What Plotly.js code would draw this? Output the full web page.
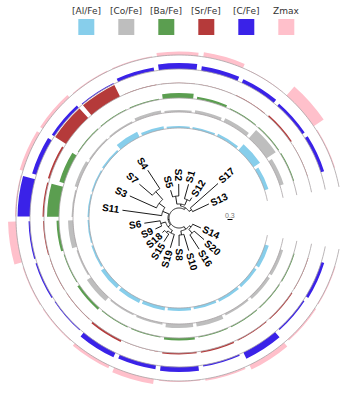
<!DOCTYPE html>
<html><head><meta charset="utf-8">
<script src="https://cdn.plot.ly/plotly-3.0.1.min.js"></script>
<style>html,body{margin:0;padding:0;background:#fff}#chart{width:358px;height:400px}</style>
</head><body><div id="chart"></div>
<script>
// ---- data ----
const samples = ['S13','S17','S12','S1','S2','S5','S4','S7','S3','S11','S6','S9','S18','S15','S19','S8','S10','S16','S20','S14'];
const seriesNames = ['[Al/Fe]','[Co/Fe]','[Ba/Fe]','[Sr/Fe]','[C/Fe]','Zmax'];
const alFe = [4, 8, 3, 2, 2, 3, 6, 2, 1.5, 1.5, 1.5, 2, 4, 4, 3.5, 3, 2.5, 3, 3, 4];
const coFe = [4, 11, 4, 3, 2, 3, 1.5, 1.5, 3, 1.5, 5, 1.5, 5, 1.5, 2, 4, 4, 2, 3, 3];
const baFe = [1, 1, 1, 2.5, 5, 1, 1, 1, 5, 12, 2.5, 1, 2.5, 1, 1, 2.5, 1, 1, 1, 1];
const srFe = [0.4, 1.5, 0.5, 0.3, 0.3, 0.3, 13, 13, 2, 1.5, 1, 0.5, 0.5, 2, 0.5, 1.5, 1.5, 1, 1, 0.5];
const cFe  = [3.5, 3, 4, 4.5, 6, 3.5, 1, 3, 4.5, 12.5, 1.5, 1.5, 1, 5, 4, 5, 1.5, 7, 1.5, 3];
const zmax = [1, 12, 0.5, 4.5, 3.5, 1, 1, 3, 3.5, 1, 8, 1, 1, 3, 5, 1, 2, 5, 1.5, 1];
const treeNewick = '(((S13:1.08,S17:2.22):0.18,((S12:0.24,S1:0.9):0.36,(S2:0.72,S5:0.42):0.48):0.12):0.12,((((S4:1.32,S7:1.02):0.62,S3:1.75):0.43,S11:2.37):0.39,((S6:0.96,S9:0.42):0.3,((S18:0.18,S15:0.54):0.12,S19:0.84):0.18):0.18):0.06,((S8:0.66,S10:1.02):0.24,((S16:1.02,S20:0.78):0.3,S14:0.54):0.12):0.18);';
const scaleBarValue = 0.3;

// ---- layout constants ----
const series = [alFe, coFe, baFe, srFe, cFe, zmax];
const colors = ['#87CEEB','#BEBEBE','#5B9E50','#B53A3A','#3A22E8','#FFC0CB'];
const ringBase = [90, 106, 120, 135, 149, 163];
const BAR_SCALE = 1;
const R0 = 10, PX_PER_UNIT = 16.7;
const ARC_START = 17, ARC_END = 343.7;
const BASE_START = 11, BASE_END = 349;
const step = (ARC_END - ARC_START) / samples.length;
const leafAngle = i => ARC_START + step * (i + 0.5);
const angles = samples.map((s, i) => leafAngle(i));

// ---- tree ----
function parseNewick(str) {
  const s = str.replace(/\s+/g, '');
  let i = 0;
  function node() {
    const n = {children: [], name: '', len: 0};
    if (s[i] === '(') {
      i++; n.children.push(node());
      while (s[i] === ',') { i++; n.children.push(node()); }
      i++;
    }
    let name = '';
    while (i < s.length && !':,);'.includes(s[i])) name += s[i++];
    n.name = name;
    if (s[i] === ':') {
      i++; let num = '';
      while (i < s.length && !',);'.includes(s[i])) num += s[i++];
      n.len = parseFloat(num);
    }
    return n;
  }
  return node();
}
const root = parseNewick(treeNewick);
const leaves = [];
function layoutTree(n, depth) {
  n.depth = depth + n.len;
  n.r = R0 + n.depth * PX_PER_UNIT;
  if (!n.children.length) { n.angle = angles[samples.indexOf(n.name)]; leaves.push(n); }
  else {
    n.children.forEach(c => layoutTree(c, n.depth));
    n.angle = (n.children[0].angle + n.children[n.children.length - 1].angle) / 2;
  }
}
layoutTree(root, 0);
const tr = [], tt = [];
function drawTree(n) {
  if (!n.children.length) return;
  const a0 = n.children[0].angle, a1 = n.children[n.children.length - 1].angle;
  for (let a = a0; a < a1; a += 1) { tr.push(n.r); tt.push(a); }
  tr.push(n.r, null); tt.push(a1, null);
  n.children.forEach(c => { tr.push(n.r, c.r, null); tt.push(c.angle, c.angle, null); drawTree(c); });
}
drawTree(root);

const traces = [];
// baselines
ringBase.forEach((rb, k) => {
  const th = [], rr = [];
  for (let a = BASE_START; a <= BASE_END; a += 1) { th.push(a); rr.push(rb); }
  traces.push({type: 'scatterpolar', mode: 'lines', r: rr, theta: th,
    line: {color: '#a8a2a4', width: 0.8}, hoverinfo: 'skip', showlegend: false});
});
// bars
series.forEach((vals, k) => {
  traces.push({type: 'barpolar', name: seriesNames[k], r: vals.map(v => v * BAR_SCALE),
    base: vals.map(() => ringBase[k]), theta: angles, width: angles.map(() => step - 1.8),
    marker: {color: colors[k], line: {width: 0}}, showlegend: false});
});
// tree
traces.push({type: 'scatterpolar', mode: 'lines', r: tr, theta: tt, connectgaps: false,
  line: {color: '#000', width: 0.9}, hoverinfo: 'skip', showlegend: false});
// scale bar (cartesian overlay)
const sbX = 48.5, sbY = -1.5;
traces.push({type: 'scatter', mode: 'lines', x: [sbX, sbX + scaleBarValue * PX_PER_UNIT], y: [sbY, sbY],
  line: {color: '#000', width: 1}, xaxis: 'x', yaxis: 'y', hoverinfo: 'skip', showlegend: false});

// labels
const canvas = document.createElement('canvas');
const ctx = canvas.getContext('2d');
const labelFont = 'bold 10px Arial, "Liberation Sans", sans-serif';
ctx.font = labelFont;
const annotations = [];
leaves.forEach(l => {
  const w = ctx.measureText(l.name).width;
  const rc = l.r + 2.5 + w / 2;
  const t = l.angle * Math.PI / 180;
  let ta = (l.angle > 90 && l.angle < 270) ? 180 - l.angle : -l.angle;
  ta = ((ta + 180) % 360 + 360) % 360 - 180;
  annotations.push({xref: 'x', yref: 'y', x: rc * Math.cos(t), y: rc * Math.sin(t), text: l.name,
    textangle: ta, showarrow: false, font: {family: 'Arial, "Liberation Sans", sans-serif', size: 10, color: '#000', weight: 'bold'},
    xanchor: 'center', yanchor: 'middle', borderpad: 0});
});
annotations.push({xref: 'x', yref: 'y', x: sbX + scaleBarValue * PX_PER_UNIT / 2, y: sbY + 4.5, text: String(scaleBarValue),
  showarrow: false, font: {family: 'Arial, sans-serif', size: 7, color: '#777'}, xanchor: 'center', yanchor: 'middle'});

// legend
const W = 358, H = 400;
const shapes = [];
seriesNames.forEach((nm, i) => {
  const cx = 86.3 + 40 * i;
  annotations.push({xref: 'paper', yref: 'paper', x: cx / W, y: 1 - 11 / H, text: nm, showarrow: false,
    font: {family: '"DejaVu Sans", sans-serif', size: 9, color: '#333'}, xanchor: 'center', yanchor: 'middle'});
  shapes.push({type: 'rect', xref: 'paper', yref: 'paper', x0: (cx - 8) / W, x1: (cx + 8) / W,
    y0: 1 - 35 / H, y1: 1 - 19 / H, fillcolor: colors[i], line: {width: 0}});
});

const RMAX = 179;
const yd = [(H - 218 - RMAX) / H, (H - 218 + RMAX) / H];
const layout = {
  width: W, height: H, margin: {l: 0, r: 0, t: 0, b: 0},
  paper_bgcolor: '#fff', plot_bgcolor: 'rgba(0,0,0,0)',
  showlegend: false,
  polar: {domain: {x: [0, 1], y: yd}, bgcolor: 'rgba(0,0,0,0)', barmode: 'overlay', hole: 0,
    radialaxis: {range: [0, RMAX], visible: false},
    angularaxis: {visible: false, direction: 'counterclockwise', rotation: 0}},
  xaxis: {domain: [0, 1], range: [-RMAX, RMAX], visible: false, fixedrange: true},
  yaxis: {domain: yd, range: [-RMAX, RMAX], visible: false, fixedrange: true},
  annotations: annotations, shapes: shapes
};
Plotly.newPlot('chart', traces, layout, {displayModeBar: false, staticPlot: true});
</script></body></html>
